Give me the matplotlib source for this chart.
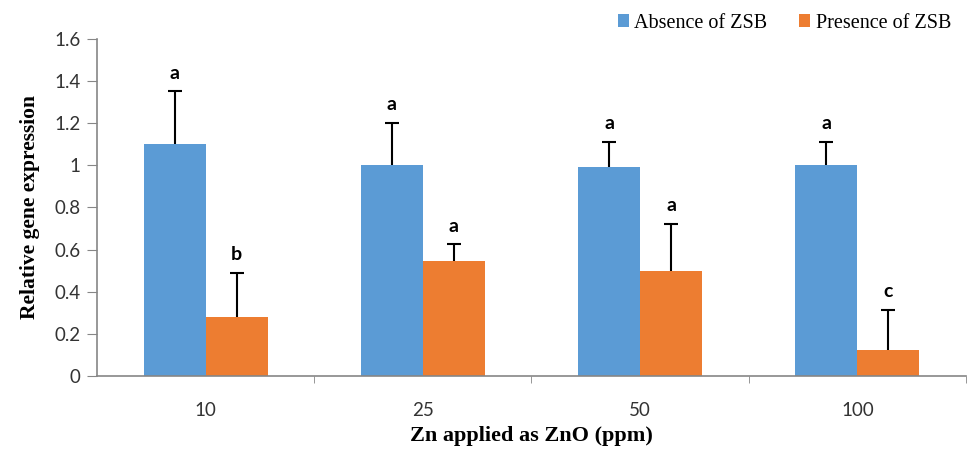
import matplotlib.pyplot as plt
import numpy as np

doses = ["10", "25", "50", "100"]
absence = [1.10, 1.00, 0.99, 1.00]
absence_err = [0.25, 0.20, 0.12, 0.11]
presence = [0.28, 0.545, 0.50, 0.125]
presence_err = [0.21, 0.08, 0.22, 0.19]
absence_letters = ["a", "a", "a", "a"]
presence_letters = ["b", "a", "a", "c"]

blue = "#5B9BD5"
orange = "#ED7D31"
axis_gray = "#868686"

fig = plt.figure(figsize=(9.69, 4.55), dpi=100)
ax = fig.add_axes([0.1001, 0.1736, 0.8968, 0.7414])

x = np.arange(len(doses))
w = 0.285
zeros = [0] * len(doses)
ax.bar(x - w / 2, absence, w, color=blue, label="Absence of ZSB")
ax.bar(x + w / 2, presence, w, color=orange, label="Presence of ZSB")

# upper-only error bars, drop the lower caps
for xs, vals, errs in [(x - w / 2, absence, absence_err), (x + w / 2, presence, presence_err)]:
    eb = ax.errorbar(xs, vals, yerr=[zeros, errs], fmt="none", ecolor="black",
                     elinewidth=1.5, capsize=5, capthick=1.5)
    eb[1][0].set_visible(False)

for i in range(len(doses)):
    ax.annotate(absence_letters[i], (x[i] - w / 2, absence[i] + absence_err[i]),
                xytext=(0, 7), textcoords="offset points", ha="center", va="bottom",
                fontsize=14, fontweight="bold", family="Lato")
    ax.annotate(presence_letters[i], (x[i] + w / 2, presence[i] + presence_err[i]),
                xytext=(0, 7), textcoords="offset points", ha="center", va="bottom",
                fontsize=14, fontweight="bold", family="Lato")

ax.set_xlim(-0.5, len(doses) - 0.5)
ax.set_ylim(0, 1.6)
ax.set_yticks(np.arange(0, 1.61, 0.2))
ax.set_yticklabels(["0", "0.2", "0.4", "0.6", "0.8", "1", "1.2", "1.4", "1.6"])
ax.set_xticks(x)
ax.set_xticklabels(doses)
ax.set_xticks(np.arange(0.5, len(doses), 1), minor=True)
ax.tick_params(axis="x", which="major", length=0, pad=19, labelsize=13.5)
ax.tick_params(axis="x", which="minor", length=5, color=axis_gray, direction="out")
ax.tick_params(axis="y", length=7, color=axis_gray, labelsize=13.5, pad=5)
for lab in ax.get_xticklabels() + ax.get_yticklabels():
    lab.set_family("Lato")
    lab.set_color("#333333")

for s in ["top", "right"]:
    ax.spines[s].set_visible(False)
for s in ["left", "bottom"]:
    ax.spines[s].set_color(axis_gray)
    ax.spines[s].set_linewidth(1.2)

ax.set_ylabel("Relative gene expression", family="Liberation Serif", fontweight="bold", fontsize=15.5, labelpad=10)
ax.set_xlabel("Zn applied as ZnO (ppm)", family="Liberation Serif", fontweight="bold", fontsize=16, labelpad=5)

leg = fig.legend(loc="upper right", bbox_to_anchor=(1.0, 1.01), ncol=2, frameon=False,
                 prop={"family": "Liberation Serif", "size": 14.5},
                 handlelength=0.55, handleheight=0.55, handletextpad=0.25, columnspacing=1.6)

fig.savefig("out.png", dpi=100)
